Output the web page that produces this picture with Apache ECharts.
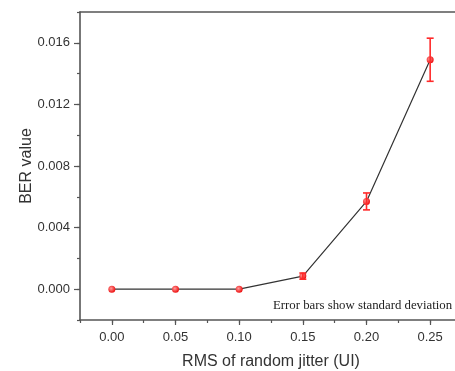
<!DOCTYPE html>
<html>
<head>
<meta charset="utf-8">
<script src="https://cdn.jsdelivr.net/npm/echarts@6/dist/echarts.min.js"></script>
<style>html,body{margin:0;padding:0;background:#fff}#c{width:455px;height:371px}</style>
</head>
<body>
<div id="c"></div>
<script>
// Data
var xValues = [0, 0.05, 0.10, 0.15, 0.20, 0.25];
var berValues = [0, 0, 0, 0.00085, 0.0057, 0.0149];
var stdValues = [0, 0, 0, 0.0002, 0.00055, 0.0014];
// Tick values
var xTickValues = [0, 0.05, 0.10, 0.15, 0.20, 0.25];
var yTickValues = [0, 0.004, 0.008, 0.012, 0.016];

var FONT = '"Liberation Sans", Arial, sans-serif';
var AXIS_COLOR = '#555';
var TEXT_COLOR = '#333';

var lineData = xValues.map(function (x, i) { return [x, berValues[i]]; });
var errData = xValues.map(function (x, i) { return [x, berValues[i] - stdValues[i], berValues[i] + stdValues[i]]; });

var chart = echarts.init(document.getElementById('c'), null, { renderer: 'canvas' });
chart.setOption({
  animation: false,
  backgroundColor: '#fff',
  grid: { left: 80, top: 12, bottom: 51, right: -7, containLabel: false, outerBoundsMode: 'none' },
  xAxis: [
    {
      type: 'value', min: -0.025, max: 0.275, interval: 0.025, position: 'bottom',
      name: 'RMS of random jitter (UI)', nameLocation: 'middle', nameGap: 34, nameMoveOverlap: false,
      nameTextStyle: { fontFamily: FONT, fontSize: 16, color: TEXT_COLOR },
      axisLine: { show: true, onZero: false, lineStyle: { color: AXIS_COLOR, width: 1.6 } },
      axisTick: { show: true, inside: false, length: 5, customValues: xTickValues, lineStyle: { color: AXIS_COLOR, width: 1.2 } },
      axisLabel: { customValues: xTickValues, margin: 11, fontFamily: FONT, fontSize: 13, color: TEXT_COLOR,
        formatter: function (v) { return v.toFixed(2); } },
      splitLine: { show: false }
    },
    {
      type: 'value', min: -0.025, max: 0.275, interval: 0.025, position: 'bottom',
      axisLine: { show: false, onZero: false },
      axisTick: { show: true, inside: false, length: 3, lineStyle: { color: AXIS_COLOR, width: 1.2 } },
      axisLabel: { show: false },
      splitLine: { show: false }
    },
    {
      type: 'value', min: -0.025, max: 0.275, position: 'top',
      axisLine: { show: true, onZero: false, lineStyle: { color: AXIS_COLOR, width: 1.6 } },
      axisTick: { show: false }, axisLabel: { show: false }, splitLine: { show: false }
    }
  ],
  yAxis: [
    {
      type: 'value', min: -0.002, max: 0.018, interval: 0.002, position: 'left',
      name: 'BER value', nameLocation: 'middle', nameGap: 45, nameMoveOverlap: false,
      nameTextStyle: { fontFamily: FONT, fontSize: 16, color: TEXT_COLOR },
      axisLine: { show: true, onZero: false, lineStyle: { color: AXIS_COLOR, width: 1.6 } },
      axisTick: { show: true, inside: false, length: 6, customValues: yTickValues, lineStyle: { color: AXIS_COLOR, width: 1.2 } },
      axisLabel: { customValues: yTickValues, margin: 10, fontFamily: FONT, fontSize: 13, color: TEXT_COLOR,
        formatter: function (v) { return v.toFixed(3); } },
      splitLine: { show: false }
    },
    {
      type: 'value', min: -0.002, max: 0.018, interval: 0.002, position: 'left',
      axisLine: { show: false, onZero: false },
      axisTick: { show: true, inside: false, length: 3, lineStyle: { color: AXIS_COLOR, width: 1.2 } },
      axisLabel: { show: false },
      splitLine: { show: false }
    }
  ],
  series: [
    {
      type: 'line', xAxisIndex: 0, yAxisIndex: 0, data: lineData,
      symbol: 'circle', symbolSize: 7, z: 2,
      lineStyle: { color: '#333', width: 1.2 },
      itemStyle: {
        color: { type: 'radial', x: 0.4, y: 0.4, r: 0.6, colorStops: [
          { offset: 0, color: '#ff9a9a' }, { offset: 1, color: '#ee1111' } ] },
        borderWidth: 0
      }
    },
    {
      type: 'custom', xAxisIndex: 0, yAxisIndex: 0, data: errData, z: 3,
      renderItem: function (params, api) {
        var x = api.value(0), lo = api.value(1), hi = api.value(2);
        if (hi - lo <= 0) return null;
        var pLo = api.coord([x, lo]);
        var pHi = api.coord([x, hi]);
        var hw = 3.5;
        var style = { stroke: '#ff2a2a', lineWidth: 1.6 };
        return {
          type: 'group',
          children: [
            { type: 'line', shape: { x1: pLo[0], y1: pLo[1], x2: pHi[0], y2: pHi[1] }, style: style },
            { type: 'line', shape: { x1: pLo[0] - hw, y1: pLo[1], x2: pLo[0] + hw, y2: pLo[1] }, style: style },
            { type: 'line', shape: { x1: pHi[0] - hw, y1: pHi[1], x2: pHi[0] + hw, y2: pHi[1] }, style: style }
          ]
        };
      }
    }
  ],
  graphic: [
    {
      type: 'text', left: 273, top: 299,
      style: { text: 'Error bars show standard deviation', font: '12.8px "Liberation Serif", "Times New Roman", serif', fill: '#222' }
    }
  ]
});
</script>
</body>
</html>
